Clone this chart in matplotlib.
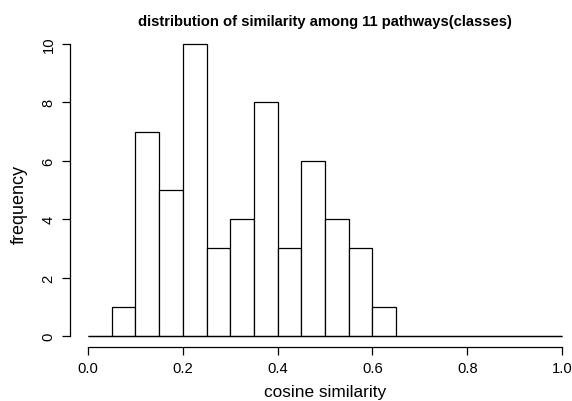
import matplotlib
matplotlib.use("Agg")
from matplotlib import pyplot as plt

# histogram counts per 0.05 bin
bin_edges = [0.0, 0.05, 0.10, 0.15, 0.20, 0.25, 0.30, 0.35, 0.40, 0.45, 0.50,
             0.55, 0.60, 0.65, 0.70, 0.75, 0.80, 0.85, 0.90, 0.95, 1.0]
counts = [0, 1, 7, 5, 10, 3, 4, 8, 3, 6, 4, 3, 1, 0, 0, 0, 0, 0, 0, 0]
x_ticks = [0.0, 0.2, 0.4, 0.6, 0.8, 1.0]
y_ticks = [0, 2, 4, 6, 8, 10]

plt.rcParams["font.family"] = ["Liberation Sans", "DejaVu Sans"]

W, H = 572, 402
fig = plt.figure(figsize=(W / 100, H / 100), dpi=100)
ax = fig.add_axes([88 / W, 1 - 337 / H, (562 - 88) / W, (337 - 45) / H])

lefts = bin_edges[:-1]
widths = [b - a for a, b in zip(bin_edges[:-1], bin_edges[1:])]
ax.bar(lefts, counts, width=widths, align="edge", color="white",
       edgecolor="black", linewidth=0.9, clip_on=False)
# zero bins drawn as a flat line
ax.plot([bin_edges[0], bin_edges[-1]], [0, 0], color="black", lw=0.9,
        clip_on=False, solid_capstyle="butt")

ax.set_xlim(0, 1)
ax.set_ylim(0, 10)
ax.spines["top"].set_visible(False)
ax.spines["right"].set_visible(False)
ax.spines["left"].set_position(("outward", 13))
ax.spines["bottom"].set_position(("outward", 8))
ax.spines["left"].set_bounds(0, 10)
ax.spines["bottom"].set_bounds(0, 1)
for s in ("left", "bottom"):
    ax.spines[s].set_linewidth(0.9)

ax.set_xticks(x_ticks)
ax.set_xticklabels(["0.0", "0.2", "0.4", "0.6", "0.8", "1.0"])
ax.set_yticks(y_ticks)
ax.set_yticklabels([str(v) for v in y_ticks], rotation=90, va="center")
ax.tick_params(length=5.8, width=0.9, labelsize=10.6, pad=4.5)
ax.tick_params(axis="x", pad=4)

ax.set_xlabel("cosine similarity", fontsize=12.4)
ax.xaxis.set_label_coords(0.5, -(393 - 337) / 292, transform=ax.transAxes)
ax.xaxis.label.set_va("center")
ax.set_ylabel("frequency", fontsize=13)
ax.yaxis.set_label_coords(-(88 - 19) / 474, (337 - 204) / 292)
ax.yaxis.label.set_va("center")
ax.set_title("distribution of similarity among 11 pathways(classes)",
             fontsize=10.6, fontweight="bold", pad=14)

fig.savefig("out.png", dpi=100)
